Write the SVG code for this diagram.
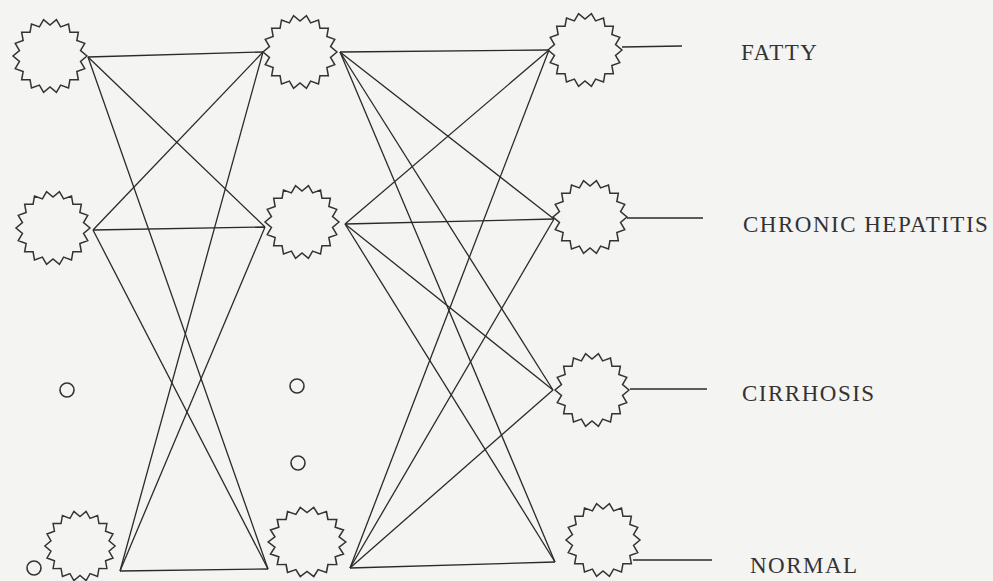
<svg xmlns="http://www.w3.org/2000/svg" width="993" height="581" viewBox="0 0 993 581">
<style>
.star{fill:none;stroke:#333;stroke-width:1.5;stroke-linejoin:miter}
.dot{fill:none;stroke:#333;stroke-width:1.6}
.ln{stroke:#2a2a2a;stroke-width:1.3;fill:none}
.lbl{font-family:"Liberation Serif","Times New Roman",serif;font-size:23px;fill:#333;letter-spacing:1.5px}
</style>
<defs>
<path id="sun" d="M37,0 L30.53,5.38 L34.77,12.65 L26.85,15.5 L28.34,23.78 L19.93,23.75 L18.5,32.04 L10.6,29.13 L6.42,36.44 L0,31 L-6.42,36.44 L-10.6,29.13 L-18.5,32.04 L-19.93,23.75 L-28.34,23.78 L-26.85,15.5 L-34.77,12.65 L-30.53,5.38 L-37,0 L-30.53,-5.38 L-34.77,-12.65 L-26.85,-15.5 L-28.34,-23.78 L-19.93,-23.75 L-18.5,-32.04 L-10.6,-29.13 L-6.42,-36.44 L0,-31 L6.42,-36.44 L10.6,-29.13 L18.5,-32.04 L19.93,-23.75 L28.34,-23.78 L26.85,-15.5 L34.77,-12.65 L30.53,-5.38 Z"/>
</defs>
<rect x="0" y="0" width="993" height="581" fill="#f4f4f2"/>
<g id="connectors">
<line class="ln" x1="88" y1="57" x2="263" y2="52"/>
<line class="ln" x1="88" y1="57" x2="265" y2="227"/>
<line class="ln" x1="88" y1="57" x2="268" y2="569"/>
<line class="ln" x1="93" y1="230" x2="263" y2="52"/>
<line class="ln" x1="93" y1="230" x2="265" y2="227"/>
<line class="ln" x1="93" y1="230" x2="268" y2="569"/>
<line class="ln" x1="120" y1="571" x2="263" y2="52"/>
<line class="ln" x1="120" y1="571" x2="265" y2="227"/>
<line class="ln" x1="120" y1="571" x2="268" y2="569"/>
<line class="ln" x1="340" y1="52" x2="549" y2="50"/>
<line class="ln" x1="340" y1="52" x2="554" y2="219"/>
<line class="ln" x1="340" y1="52" x2="553" y2="390"/>
<line class="ln" x1="340" y1="52" x2="555" y2="562"/>
<line class="ln" x1="345" y1="224" x2="549" y2="50"/>
<line class="ln" x1="345" y1="224" x2="554" y2="219"/>
<line class="ln" x1="345" y1="224" x2="553" y2="390"/>
<line class="ln" x1="345" y1="224" x2="555" y2="562"/>
<line class="ln" x1="350" y1="568" x2="549" y2="50"/>
<line class="ln" x1="350" y1="568" x2="554" y2="219"/>
<line class="ln" x1="350" y1="568" x2="553" y2="390"/>
<line class="ln" x1="350" y1="568" x2="555" y2="562"/>
<line class="ln" x1="622" y1="47" x2="682" y2="46"/>
<line class="ln" x1="627" y1="218" x2="703" y2="218"/>
<line class="ln" x1="630" y1="389" x2="707" y2="389"/>
<line class="ln" x1="633" y1="560" x2="712" y2="560"/>
</g>
<g id="in1"><use href="#sun" class="star" transform="translate(50,56)"/></g>
<g id="in2"><use href="#sun" class="star" transform="translate(53,228)"/></g>
<g id="in3"><use href="#sun" class="star" transform="translate(80,546) scale(0.95)"/></g>
<g id="hid1"><use href="#sun" class="star" transform="translate(300,52)"/></g>
<g id="hid2"><use href="#sun" class="star" transform="translate(302,222)"/></g>
<g id="hid3"><use href="#sun" class="star" transform="translate(307,542) scale(1.05,0.95)"/></g>
<g id="out1"><use href="#sun" class="star" transform="translate(585,50)"/></g>
<g id="out2"><use href="#sun" class="star" transform="translate(590,217)"/></g>
<g id="out3"><use href="#sun" class="star" transform="translate(592,390)"/></g>
<g id="out4"><use href="#sun" class="star" transform="translate(603,540)"/></g>
<g id="dots">
<circle class="dot" cx="67" cy="390" r="7"/>
<circle class="dot" cx="34" cy="568" r="7"/>
<circle class="dot" cx="297" cy="386" r="7"/>
<circle class="dot" cx="298" cy="463" r="7"/>
</g>
<g id="labels">
<text class="lbl" x="741" y="60">FATTY</text>
<text class="lbl" x="743" y="232">CHRONIC HEPATITIS</text>
<text class="lbl" x="742" y="401">CIRRHOSIS</text>
<text class="lbl" x="750" y="573">NORMAL</text>
</g>
</svg>
